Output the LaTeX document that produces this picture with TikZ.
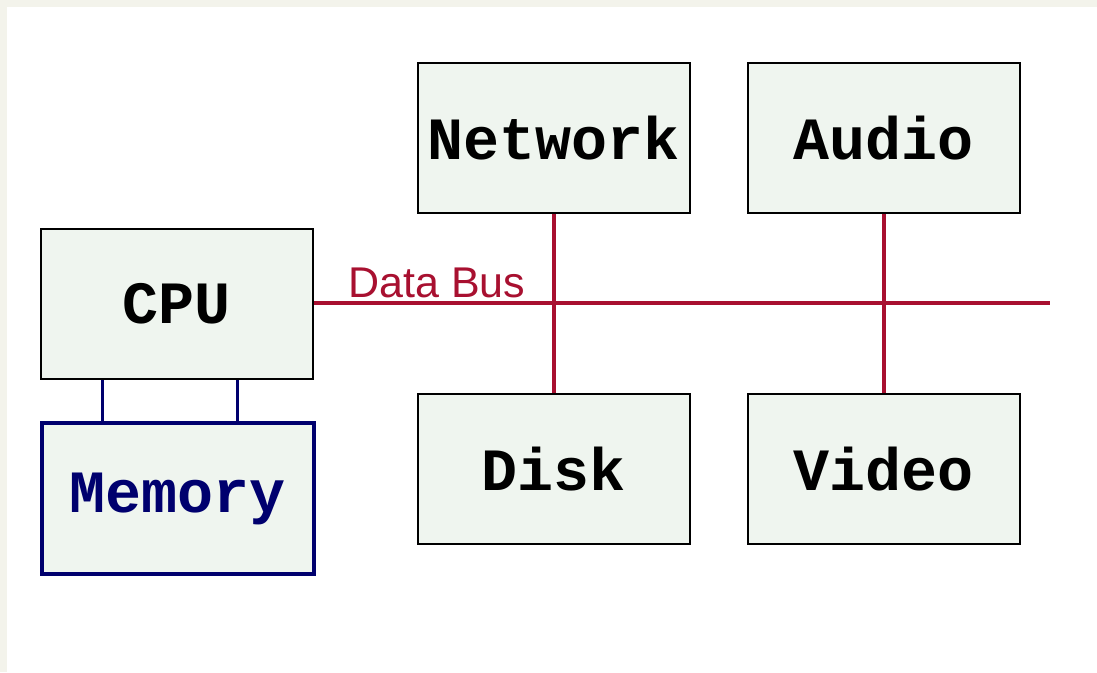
\documentclass[tikz,border=0pt]{standalone}
\usepackage{fontspec}
\setmonofont{Liberation Mono}
\setsansfont{Liberation Sans}
\usepackage{tikz}
\definecolor{pagebg}{RGB}{243,243,235}
\definecolor{boxfill}{RGB}{239,245,239}
\definecolor{buscol}{RGB}{168,16,48}
\definecolor{memcol}{RGB}{0,0,110}

\begin{document}
\begin{tikzpicture}[x=1pt, y=-1pt,
		box/.style={draw=black, line width=1.8pt, fill=boxfill, minimum width=272pt, minimum height=150pt, inner sep=0pt,
			font=\fontsize{60}{60}\selectfont\ttfamily\bfseries},
		membox/.style={box, draw=memcol, line width=3.4pt, text=memcol, minimum width=272pt, minimum height=151pt},
		bus/.style={draw=buscol, line width=3.2pt},
		memline/.style={draw=memcol, line width=3pt}]
				% page and frame
				\fill[pagebg] (0,0) rectangle (1097,672);
				\fill[white] (7,7) rectangle (1097,672);
				% the units
				\node[box] (cpu) at (177,304) {CPU};
				\node[membox] (mem) at (178,498.5) {Memory};
				\node[box] (net) at (554,138) {Network};
				\node[box] (aud) at (884,138) {Audio};
				\node[box] (disk) at (554,469) {Disk};
				\node[box] (vid) at (884,469) {Video};
				% memory links
				\foreach \x in {102,237} {
					\draw[memline] (cpu.south -| \x,0) -- (mem.north -| \x,0);
				}
				% data bus
				\coordinate (busend) at (1050,303);
				\draw[bus] (cpu.east |- busend) -- (busend);
				\draw[bus] (net.south) -- (disk.north);
				\draw[bus] (aud.south) -- (vid.north);
				\node[text=buscol, font=\fontsize{43}{43}\selectfont\sffamily, inner sep=0pt] (buslabel) at (437,283) {Data Bus};
			\end{tikzpicture}
\end{document}
